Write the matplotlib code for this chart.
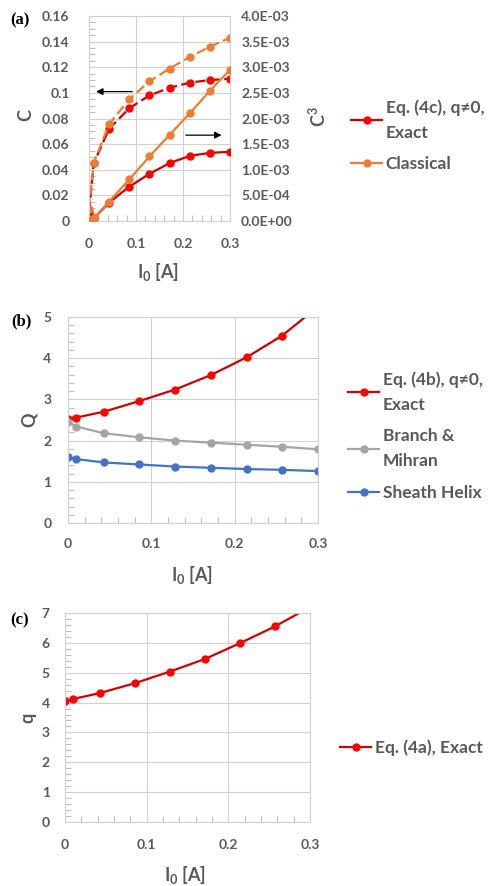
import matplotlib
matplotlib.use('Agg')
import matplotlib.pyplot as plt
from matplotlib.ticker import MultipleLocator, FixedLocator, FuncFormatter

# beam current I0 [A], same sampling for every curve
current = [0, 0.01, 0.0429, 0.0857, 0.1286, 0.1714, 0.2143, 0.2571, 0.3]

# (a) coupling parameter C (left axis) and C^3 (right axis)
cExact = [0.0068, 0.045, 0.072, 0.088, 0.098, 0.104, 0.108, 0.110, 0.111]
cClassical = [0.0094, 0.0455, 0.0757, 0.095, 0.109, 0.119, 0.128, 0.136, 0.143]
c3Exact = [0.0, 5e-5, 3.6e-4, 6.7e-4, 9.2e-4, 1.13e-3, 1.27e-3, 1.33e-3, 1.35e-3]
c3Classical = [0.0, 5e-5, 3.8e-4, 8.1e-4, 1.26e-3, 1.68e-3, 2.10e-3, 2.54e-3, 2.95e-3]

# (b) space charge parameter Q
qExact = [2.52, 2.56, 2.70, 2.96, 3.24, 3.59, 4.02, 4.55, 5.25]
qBranch = [2.46, 2.34, 2.18, 2.08, 2.00, 1.95, 1.90, 1.85, 1.79]
qSheath = [1.61, 1.55, 1.47, 1.42, 1.37, 1.34, 1.31, 1.29, 1.26]

# (c) parameter q
smallQ = [4.04, 4.12, 4.32, 4.65, 5.04, 5.46, 5.99, 6.55, 7.2]

W, H = 488, 886
RED_LINE = '#d00000'
RED = '#ff0000'
ORANGE = '#ed7d31'
GRAY = '#a5a5a5'
BLUE = '#4472c4'
TXT = '#595959'
GRID = '#d0d0d0'
FONT = ['Lato', 'DejaVu Sans']
TICK_FS = 10
LEG_FS = 12.5
LAB_FS = 13

plt.rcParams['font.family'] = FONT
plt.rcParams['font.weight'] = 'bold'
plt.rcParams['mathtext.default'] = 'regular'


def box(left, top, right, bottom):
    return [left / W, (H - bottom) / H, (right - left) / W, (bottom - top) / H]


def fx(x):
    return x / W


def fy(y):
    return (H - y) / H


def styleAxes(ax, ypad, xpad):
    ax.grid(True, color=GRID, linewidth=0.8)
    ax.set_axisbelow(True)
    for s in ax.spines.values():
        s.set_color(GRID)
        s.set_linewidth(0.8)
    ax.tick_params(which='major', length=0, labelsize=TICK_FS, labelcolor=TXT)
    ax.tick_params(axis='y', which='major', pad=ypad)
    ax.tick_params(axis='x', which='major', pad=xpad)
    ax.tick_params(which='minor', direction='in', length=4, color='#bfbfbf', width=0.8)
    ax.xaxis.set_minor_locator(MultipleLocator(0.02))
    ax.set_xlim(0, 0.3)
    ax.xaxis.set_major_locator(FixedLocator([0, 0.1, 0.2, 0.3]))
    ax.xaxis.set_major_formatter(FuncFormatter(lambda v, p: '0' if v == 0 else '%g' % round(v, 2)))


def series(ax, y, lineColor, markerColor, label=None, dashed=False):
    line, = ax.plot(current, y, color=lineColor, linewidth=1.6, marker='o', markersize=5,
                    markerfacecolor=markerColor, markeredgecolor=markerColor, label=label)
    if dashed:
        line.set_dashes((4.5, 2))
    return line


def legendAt(handles, anchor, loc):
    leg = fig.legend(handles=handles, loc=loc, bbox_to_anchor=anchor, frameon=False,
                     fontsize=LEG_FS, handlelength=1.8, handletextpad=0.2,
                     labelspacing=0.9, borderpad=0, borderaxespad=0)
    for t in leg.get_texts():
        t.set_color(TXT)
        t.set_linespacing(1.7)
    return leg


fig = plt.figure(figsize=(W / 100, H / 100), dpi=100)
xlabel = r'I$_\mathregular{0}$ [A]'

# ---- panel (a)
axA = fig.add_axes(box(89, 16, 230, 221))
styleAxes(axA, 14, 12)
axA.set_ylim(0, 0.16)
axA.yaxis.set_major_locator(MultipleLocator(0.02))
axA.yaxis.set_minor_locator(MultipleLocator(0.005))
axA.yaxis.set_major_formatter(FuncFormatter(lambda v, p: '0' if v == 0 else '%g' % round(v, 2)))
axA2 = axA.twinx()
axA2.set_ylim(0, 0.004)
axA2.yaxis.set_major_locator(MultipleLocator(0.0005))
axA2.yaxis.set_major_formatter(FuncFormatter(lambda v, p: '%.1E' % v if v else '0.0E+00'))
axA2.tick_params(length=0, labelsize=TICK_FS, labelcolor=TXT, pad=8)
for s in axA2.spines.values():
    s.set_visible(False)

series(axA, cExact, RED_LINE, RED, dashed=True)
series(axA, cClassical, ORANGE, ORANGE, dashed=True)
hA1 = series(axA2, c3Exact, RED_LINE, RED, label='Eq. (4c), q\u22600,\nExact')
hA2 = series(axA2, c3Classical, ORANGE, ORANGE, label='Classical')

axA.annotate('', xy=(0.009, 0.101), xytext=(0.098, 0.101),
             arrowprops=dict(arrowstyle='-|>', color='black', lw=0.9, mutation_scale=10))
axA.annotate('', xy=(0.288, 0.067), xytext=(0.2, 0.067),
             arrowprops=dict(arrowstyle='-|>', color='black', lw=0.9, mutation_scale=10))

fig.text(fx(26), fy(115), 'C', rotation=90, ha='center', va='center', fontsize=LAB_FS, color=TXT)
fig.text(fx(318), fy(117), r'C$^\mathregular{3}$', rotation=90, ha='center', va='center',
         fontsize=LAB_FS, color=TXT)
fig.text(fx(158), fy(272), xlabel, ha='center', va='center', fontsize=LAB_FS, color=TXT)
fig.text(fx(20), fy(20), '(a)', ha='center', va='center', fontsize=12, fontweight='bold',
         family='Liberation Serif', color='black')

legendAt([hA1, hA2], (fx(351), fy(99)), 'upper left')

# ---- panel (b)
axB = fig.add_axes(box(68, 317, 318, 523))
styleAxes(axB, 12, 11)
axB.set_ylim(0, 5)
axB.yaxis.set_major_locator(MultipleLocator(1))
axB.yaxis.set_minor_locator(MultipleLocator(0.2))
hB1 = series(axB, qExact, RED_LINE, RED, label='Eq. (4b), q\u22600,\nExact')
hB2 = series(axB, qBranch, GRAY, GRAY, label='Branch &\nMihran')
hB3 = series(axB, qSheath, BLUE, BLUE, label='Sheath Helix')

fig.text(fx(29), fy(420), 'Q', rotation=90, ha='center', va='center', fontsize=LAB_FS, color=TXT)
fig.text(fx(192), fy(575), xlabel, ha='center', va='center', fontsize=LAB_FS, color=TXT)
fig.text(fx(21), fy(321), '(b)', ha='center', va='center', fontsize=12, fontweight='bold',
         family='Liberation Serif', color='black')

legendAt([hB1, hB2, hB3], (fx(348), fy(371)), 'upper left')

# ---- panel (c)
axC = fig.add_axes(box(65, 613, 310, 822))
styleAxes(axC, 11, 12)
axC.set_ylim(0, 7)
axC.yaxis.set_major_locator(MultipleLocator(1))
axC.yaxis.set_minor_locator(MultipleLocator(0.2))
hC1 = series(axC, smallQ, RED_LINE, RED, label='Eq. (4a), Exact')

fig.text(fx(28), fy(718), 'q', rotation=90, ha='center', va='center', fontsize=LAB_FS, color=TXT)
fig.text(fx(185), fy(875), xlabel, ha='center', va='center', fontsize=LAB_FS, color=TXT)
fig.text(fx(20), fy(620), '(c)', ha='center', va='center', fontsize=12, fontweight='bold',
         family='Liberation Serif', color='black')

legendAt([hC1], (fx(340), fy(748)), 'center left')

fig.savefig('out.png', dpi=100)
